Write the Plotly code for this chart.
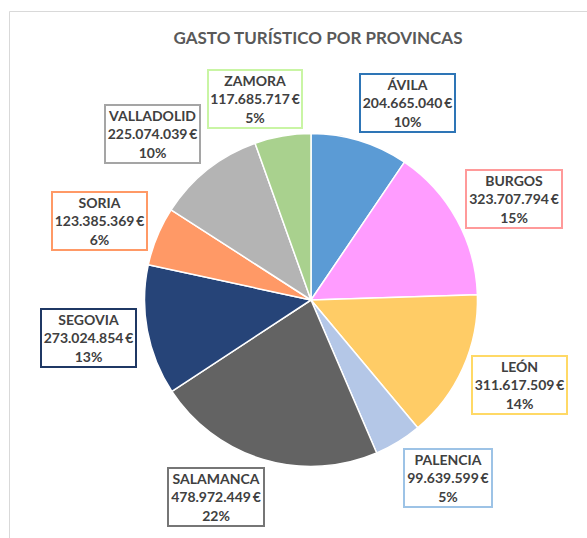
import plotly.graph_objects as go

# ---- data ----
provincias = ["ÁVILA", "BURGOS", "LEÓN", "PALENCIA", "SALAMANCA",
              "SEGOVIA", "SORIA", "VALLADOLID", "ZAMORA"]
gasto = [204665040, 323707794, 311617509, 99639599, 478972449,
         273024854, 123385369, 225074039, 117685717]
porcentajes = ["10%", "15%", "14%", "5%", "22%", "13%", "6%", "10%", "5%"]

# ---- styles ----
colores = ["#5b9bd5", "#ff9cff", "#ffcc66", "#b4c7e7", "#636363",
           "#264478", "#ff9966", "#b4b4b4", "#a9d18e"]
bordes = ["#2e75b6", "#ff9a9a", "#ffd966", "#9dc3e6", "#767676",
          "#1f3864", "#ff9966", "#a5a5a5", "#c9f5a4"]
# label box centres in pixels (layout), and box widths
centros = [(407.5, 103.5), (514, 199), (519.5, 384.5), (448, 478), (216, 497),
           (88.5, 338), (99.5, 221), (152.5, 134), (255, 99)]
anchos = [97, 98, 97, 90, 98, 97, 97, 97, 96]

W, H = 587, 538
cx, cy, r = 311, 300, 166.5

fig = go.Figure(go.Pie(
    labels=provincias, values=gasto, sort=False, direction="clockwise",
    rotation=0, textinfo="none", hoverinfo="label+value+percent",
    marker=dict(colors=colores, line=dict(color="white", width=1.5)),
    domain=dict(x=[(cx - r) / W, (cx + r) / W],
                y=[1 - (cy + r) / H, 1 - (cy - r) / H]),
    showlegend=False,
))

def fmt(v):
    return f"{v:,}".replace(",", ".") + "\u2009€"

for name, v, p, b, (x, y), w in zip(provincias, gasto, porcentajes, bordes, centros, anchos):
    fig.add_annotation(
        x=x / W, y=1 - y / H, xref="paper", yref="paper",
        xanchor="center", yanchor="middle", showarrow=False,
        text=f"<b>{name}<br>{fmt(v)}<br>{p}</b>",
        font=dict(family="Lato", size=14, color="#404040"),
        align="center", bgcolor="white", bordercolor=b, borderwidth=2,
        borderpad=0, width=w - 4, height=56,
    )

fig.add_shape(type="rect", xref="paper", yref="paper",
              x0=9.5 / W, y0=-0.05, x1=1.05, y1=1 - 11.5 / H,
              line=dict(color="#d9d9d9", width=1), layer="below")

fig.update_layout(
    width=W, height=H, margin=dict(l=0, r=0, t=0, b=0),
    paper_bgcolor="white", plot_bgcolor="white",
    title=dict(text="<b>GASTO TURÍSTICO POR PROVINCAS</b>", x=318 / W, y=1 - 38 / H,
               xanchor="center", yanchor="middle",
               font=dict(family="Lato", size=17, color="#595959")),
)

fig.write_html("out.html", config={"displayModeBar": False},
               post_script="document.body.style.margin='0';document.body.style.overflow='hidden';")
